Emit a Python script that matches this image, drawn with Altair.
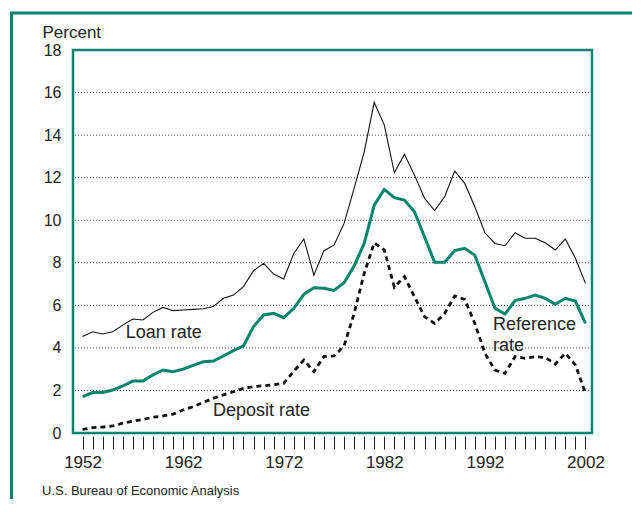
import altair as alt
import pandas as pd

years = list(range(1952, 2003))

loan_rate = [4.53, 4.76, 4.65, 4.76, 5.07, 5.36, 5.31, 5.67, 5.90, 5.75,
             5.78, 5.81, 5.84, 5.94, 6.33, 6.48, 6.88, 7.63, 7.97, 7.47,
             7.24, 8.44, 9.12, 7.42, 8.57, 8.83, 9.85, 11.50, 13.20, 15.54,
             14.47, 12.23, 13.10, 12.12, 11.03, 10.45, 11.10, 12.31, 11.73, 10.63,
             9.41, 8.91, 8.80, 9.41, 9.15, 9.15, 8.94, 8.60, 9.12, 8.21,
             7.03]

reference_rate = [1.71, 1.90, 1.90, 2.02, 2.21, 2.44, 2.44, 2.73, 2.96, 2.88,
                  3.00, 3.18, 3.35, 3.38, 3.62, 3.87, 4.10, 5.00, 5.55, 5.62,
                  5.42, 5.86, 6.52, 6.83, 6.80, 6.70, 7.06, 7.85, 8.91, 10.71,
                  11.45, 11.06, 10.95, 10.40, 9.22, 8.02, 8.02, 8.57, 8.68, 8.36,
                  7.11, 5.86, 5.59, 6.22, 6.33, 6.48, 6.33, 6.05, 6.33, 6.20,
                  5.15]

deposit_rate = [0.17, 0.25, 0.28, 0.33, 0.46, 0.55, 0.64, 0.74, 0.80, 0.89,
                1.08, 1.24, 1.44, 1.63, 1.79, 1.94, 2.10, 2.18, 2.22, 2.27,
                2.33, 2.90, 3.43, 2.88, 3.60, 3.62, 4.09, 5.62, 7.50, 8.94,
                8.60, 6.85, 7.35, 6.40, 5.47, 5.15, 5.62, 6.44, 6.28, 5.15,
                3.75, 2.96, 2.80, 3.59, 3.51, 3.59, 3.55, 3.24, 3.75, 3.20,
                1.87]

grid_values = [2, 4, 6, 8, 10, 12, 14, 16]
y_ticks = list(range(0, 19, 2))

ann_text = ["Loan rate", "Deposit rate", "Reference", "rate"]
ann_year = [1956.3, 1964.97, 1992.8, 1992.8]
ann_value = [4.71, 1.03, 5.08, 4.09]

GREEN = "#00846b"
INK = "#222222"
FONT = "Liberation Sans"

df = pd.DataFrame({"year": years, "loan": loan_rate,
                   "ref": reference_rate, "dep": deposit_rate})
ann = pd.DataFrame({"text": ann_text, "year": ann_year, "value": ann_value})
grid = pd.DataFrame({"g": grid_values})

xscale = alt.Scale(domain=[1951.05, 2002.65], nice=False, zero=False)
yscale = alt.Scale(domain=[0, 18], nice=False)

xaxis = alt.Axis(values=years, format="d",
                 labelExpr="datum.value % 10 == 2 ? datum.label : ''",
                 labelOverlap=False, labelFlush=False, labelBound=False,
                 tickColor=INK, tickWidth=1, tickSize=13, offset=3,
                 domain=False, grid=False, labelFontSize=17,
                 labelColor=INK, labelPadding=5, labelFont=FONT, title=None)

yaxis = alt.Axis(values=y_ticks, labelFontSize=16, labelColor=INK,
                 labelFont=FONT, ticks=False, domain=False, grid=False,
                 labelOverlap=False,
                 labelPadding=12, title="Percent", titleAngle=0,
                 titleX=-31, titleY=-13, titleAlign="left",
                 titleBaseline="alphabetic", titleFontSize=17,
                 titleFontWeight="normal", titleFont=FONT, titleColor=INK)

X = lambda: alt.X("year:Q", scale=xscale, axis=xaxis)
Y = lambda f: alt.Y(f, scale=yscale, axis=yaxis)

base = alt.Chart(df)

gridlines = alt.Chart(grid).mark_rule(
    strokeDash=[1, 2], color="#444444", strokeWidth=1
).encode(y=Y("g:Q"))

dep_line = base.mark_line(color="#111111", strokeWidth=2.8,
                          strokeDash=[5, 4]).encode(x=X(), y=Y("dep:Q"))

ref_line = base.mark_line(color=GREEN, strokeWidth=3).encode(
    x=X(), y=Y("ref:Q"))

loan_line = base.mark_line(color="#111111", strokeWidth=1.1).encode(
    x=X(), y=Y("loan:Q"))

labels = alt.Chart(ann).mark_text(
    align="left", baseline="middle", fontSize=18, font=FONT, color=INK
).encode(x=X(), y=Y("value:Q"), text="text:N")

one = alt.Data(values=[{"a": 1}])
frame_v = alt.Chart(one).mark_rule(color=GREEN, strokeWidth=3).encode(
    x=alt.value(-61.5), y=alt.value(-37), y2=alt.value(600))
frame_h = alt.Chart(one).mark_rule(color=GREEN, strokeWidth=3).encode(
    x=alt.value(-63), x2=alt.value(700), y=alt.value(-37))

source = alt.Chart(one).mark_text(
    align="left", baseline="middle", fontSize=13,
    font="Liberation Sans Narrow, Liberation Sans", color=INK
).encode(x=alt.value(-31), y=alt.value(441),
         text=alt.value("U.S. Bureau of Economic Analysis"))

chart = alt.layer(
    gridlines, dep_line, ref_line, loan_line, labels, frame_v, frame_h, source
).properties(
    width=519, height=383,
    autosize=alt.AutoSizeParams(type="none"),
    padding={"left": 65, "top": 42, "right": 40, "bottom": 66},
    background="white"
).configure_view(stroke=GREEN, strokeWidth=2.5)

chart.save("out.html", embed_options={"renderer": "svg", "actions": False})
